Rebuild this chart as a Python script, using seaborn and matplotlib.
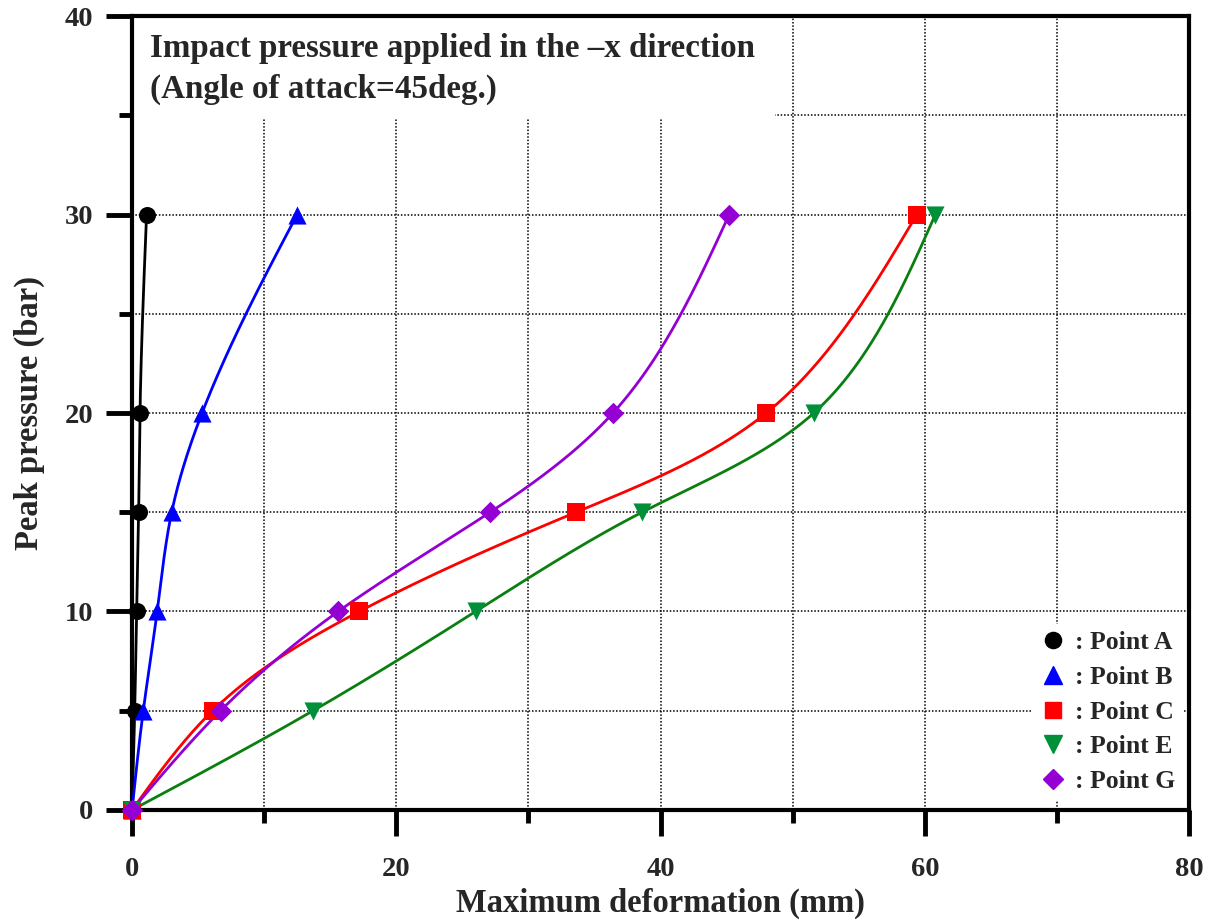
import numpy as np
import pandas as pd
import matplotlib
matplotlib.use("Agg")
import matplotlib.pyplot as plt
from matplotlib.lines import Line2D
from matplotlib.patches import Rectangle
from matplotlib.ticker import MultipleLocator
import seaborn as sns

# ---- data ----
pressure = [0, 5, 10, 15, 20, 30]
point_a = [0.0, 0.2, 0.35, 0.5, 0.6, 1.1]
point_b = [0.0, 0.85, 1.9, 3.0, 5.3, 12.5]
point_c = [0.0, 6.1, 17.2, 33.6, 48.0, 59.4]
point_e = [0.0, 13.7, 26.0, 38.6, 51.6, 60.8]
point_g = [0.0, 6.7, 15.6, 27.1, 36.4, 45.2]
series_names = ["Point A", "Point B", "Point C", "Point E", "Point G"]
series_vals = [point_a, point_b, point_c, point_e, point_g]

x_ticks = [0, 20, 40, 60, 80]
y_ticks = [0, 10, 20, 30, 40]
title_text = "Impact pressure applied in the \u2013x direction\n(Angle of attack=45deg.)"
x_label = "Maximum deformation (mm)"
y_label = "Peak pressure (bar)"

# ---- styles ----
line_colors = ["#000000", "#0000ff", "#ff0000", "#0a7f10", "#9400d3"]
marker_colors = ["#000000", "#0000ff", "#ff0000", "#00903a", "#9400d3"]
markers = ["o", "^", "s", "v", "D"]
marker_sizes = [150, 170, 150, 170, 120]

sns.set_style("white")
plt.rcParams["font.family"] = ["Liberation Serif", "DejaVu Serif"]
plt.rcParams["font.weight"] = "bold"
plt.rcParams["axes.labelweight"] = "bold"


def natural_spline(t, v, tt):
    n = len(t)
    h = np.diff(t)
    A = np.zeros((n, n))
    r = np.zeros(n)
    A[0, 0] = 1
    A[-1, -1] = 1
    for i in range(1, n - 1):
        A[i, i - 1] = h[i - 1]
        A[i, i] = 2 * (h[i - 1] + h[i])
        A[i, i + 1] = h[i]
        r[i] = 3 * ((v[i + 1] - v[i]) / h[i] - (v[i] - v[i - 1]) / h[i - 1])
    c = np.linalg.solve(A, r)
    out = np.empty_like(tt)
    for k, x in enumerate(tt):
        i = min(max(np.searchsorted(t, x) - 1, 0), n - 2)
        dx = x - t[i]
        b = (v[i + 1] - v[i]) / h[i] - h[i] * (2 * c[i] + c[i + 1]) / 3
        d = (c[i + 1] - c[i]) / (3 * h[i])
        out[k] = v[i] + b * dx + c[i] * dx ** 2 + d * dx ** 3
    return out


def smooth(xs, ys):
    xs = np.asarray(xs, float)
    ys = np.asarray(ys, float)
    px, py = xs * 13.2, ys * 19.85
    d = np.hypot(np.diff(px), np.diff(py))
    t = np.concatenate([[0], np.cumsum(d)])
    tt = np.linspace(0, t[-1], 400)
    return natural_spline(t, xs, tt), natural_spline(t, ys, tt)


fig = plt.figure(figsize=(12.07, 9.22), dpi=100)
ax = fig.add_axes([0.1094, 0.1215, 0.8757, 0.8611])

rows = []
for name, vals in zip(series_names, series_vals):
    sx, sy = smooth(vals, pressure)
    rows.append(pd.DataFrame({"x": sx, "y": sy, "s": name, "o": np.arange(len(sx))}))
curves = pd.concat(rows, ignore_index=True)
pts = pd.DataFrame({
    "x": np.concatenate(series_vals),
    "y": np.tile(pressure, len(series_vals)),
    "s": np.repeat(series_names, len(pressure)),
})

sns.lineplot(data=curves, x="x", y="y", hue="s", palette=dict(zip(series_names, line_colors)),
             sort=False, estimator=None, units="s", lw=2.0, legend=False, ax=ax, zorder=3)
for name, mk, col, ms in zip(series_names, markers, marker_colors, marker_sizes):
    sub = pts[pts["s"] == name]
    sns.scatterplot(data=sub, x="x", y="y", marker=mk, color=col, s=ms, linewidth=0,
                    ax=ax, zorder=4, legend=False, clip_on=False)

ax.set_xlim(0, 80)
ax.set_ylim(0, 40)
ax.set_xticks(x_ticks)
ax.set_yticks(y_ticks)
ax.xaxis.set_minor_locator(MultipleLocator(10))
ax.yaxis.set_minor_locator(MultipleLocator(5))
ax.set_axisbelow(True)
ax.grid(True, which="both", color="black", linestyle=(0, (1, 1.2)), linewidth=1.1)

# white box behind the title text
ax.add_patch(Rectangle((0, 34.85), 48.7, 5.15, facecolor="white", edgecolor="none", zorder=1))
ax.text(0.017, 0.979, title_text, transform=ax.transAxes, ha="left", va="top",
        fontsize=23.8, fontweight="bold", linespacing=1.4, zorder=5)

for s in ax.spines.values():
    s.set_linewidth(3)
    s.set_color("black")
ax.tick_params(which="major", direction="out", length=19, width=3.5, color="black",
               labelsize=20.5, pad=9)
ax.tick_params(which="minor", direction="out", length=9.5, width=3.5, color="black")
ax.tick_params(axis="x", which="major", pad=15)
ax.tick_params(axis="x", which="both", bottom=True)
ax.tick_params(axis="y", which="both", left=True)
for lab in ax.get_xticklabels() + ax.get_yticklabels():
    lab.set_fontweight("bold")

ax.set_xlabel(x_label, fontsize=23.5, fontweight="bold", labelpad=4)
ax.set_ylabel(y_label, fontsize=23.5, fontweight="bold", labelpad=14)

handles = [Line2D([], [], linestyle="none", marker=mk, color=col, markersize=ms ** 0.5 * 0.95)
           for mk, col, ms in zip(markers, marker_colors, marker_sizes)]
leg = ax.legend(handles, [": " + n for n in series_names], loc="lower right", frameon=True,
                prop={"family": "Liberation Serif", "weight": "bold", "size": 18.5},
                handletextpad=0.36, labelspacing=0.45, handlelength=1.0, borderaxespad=0.0,
                borderpad=0.3, bbox_to_anchor=(0.994, 0.012), fancybox=False)
leg.get_frame().set_facecolor("white")
leg.get_frame().set_edgecolor("none")
leg.get_frame().set_alpha(1.0)

fig.savefig("out.png", dpi=100)
